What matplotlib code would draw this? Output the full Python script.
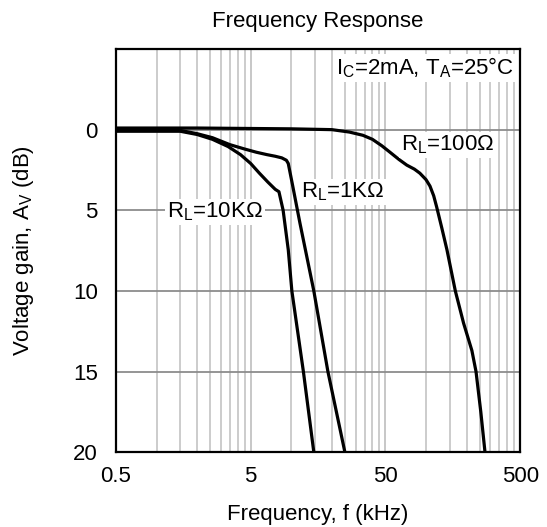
import matplotlib
matplotlib.use('Agg')
from matplotlib import pyplot as plt
import numpy as np

plt.rcParams['font.family'] = ['Liberation Sans', 'DejaVu Sans']
plt.rcParams['mathtext.fontset'] = 'custom'
plt.rcParams['mathtext.rm'] = 'Liberation Sans'
plt.rcParams['font.size'] = 16

# 曲线数据
f_100 = [0.5, 2, 10, 20, 27, 34, 40, 47, 54, 63, 72, 82, 90, 100, 107, 114, 120, 131, 143, 165, 190, 219, 235, 255, 274]
g_100 = [-0.1, -0.1, -0.05, 0.0, 0.15, 0.35, 0.6, 1.0, 1.4, 1.85, 2.2, 2.45, 2.7, 3.1, 3.5, 4.1, 4.8, 6.1, 7.45, 10, 12.0, 13.7, 15, 17.5, 20]

f_1k = [0.5, 1.5, 2.0, 2.6, 3.5, 4.5, 5.5, 6.6, 7.6, 8.5, 9.2, 9.5, 10.2, 11.6, 14.7, 18.7, 25]
g_1k = [0.0, 0.05, 0.25, 0.5, 0.93, 1.2, 1.4, 1.55, 1.65, 1.75, 1.9, 2.1, 3.4, 5.8, 10, 15, 20]

f_10k = [0.5, 1.5, 2.0, 2.6, 3.4, 4.2, 5.0, 5.8, 6.7, 7.6, 8.1, 8.7, 9.5, 10.1, 12.3, 14.7]
g_10k = [0.1, 0.1, 0.3, 0.6, 1.05, 1.55, 2.1, 2.7, 3.25, 3.7, 3.85, 5.0, 7.45, 10, 15, 20]

xticks = [0.5, 5, 50, 500]
xticklabels = ['0.5', '5', '50', '500']
yticks = [0, 5, 10, 15, 20]

fig = plt.figure(figsize=(5.47, 5.27), dpi=100)
ax = fig.add_axes([0.212, 0.142, 0.739, 0.765])

# 网格线
minor = [m * 10.0 ** e for e in (-1, 0, 1, 2) for m in np.arange(5, 50, 5)]
minor = [v for v in minor if 0.5 < v < 500]
for v in minor:
    ax.axvline(v, color='#c8c8c8', lw=1.3, zorder=1)
for v in [5, 50]:
    ax.axvline(v, color='#c8c8c8', lw=1.3, zorder=1)
for v in [0, 5, 10, 15]:
    ax.axhline(v, color='#8c8c8c', lw=1.3, zorder=1)

for f, g in [(f_100, g_100), (f_1k, g_1k), (f_10k, g_10k)]:
    ax.plot(f, g, color='black', lw=2.3, zorder=3, solid_joinstyle='round')

ax.set_xscale('log')
ax.set_xlim(0.5, 500)
ax.set_ylim(20, -5)
ax.set_xticks(xticks)
ax.set_xticklabels(xticklabels)
ax.xaxis.set_minor_locator(matplotlib.ticker.NullLocator())
ax.set_yticks(yticks)
ax.tick_params(axis='y', length=0, pad=13, labelsize=16)
ax.tick_params(axis='x', length=0, pad=10, labelsize=16)
for s in ax.spines.values():
    s.set_linewidth(1.6)

ax.set_title('Frequency Response', fontsize=16, pad=16)
ax.set_xlabel('Frequency, f (kHz)', fontsize=16, labelpad=12)
ax.set_ylabel('Voltage gain, A$_\\mathregular{V}$ (dB)', fontsize=16, labelpad=27)

box = dict(facecolor='white', edgecolor='none', pad=1.5)
ax.text(0.985, 0.953, 'I$_\\mathregular{C}$=2mA, T$_\\mathregular{A}$=25°C', transform=ax.transAxes,
        ha='right', va='center', bbox=box, zorder=4)
ax.text(0.82, 0.762, 'R$_\\mathregular{L}$=100Ω', transform=ax.transAxes,
        ha='center', va='center', bbox=box, zorder=4)
ax.text(0.562, 0.645, 'R$_\\mathregular{L}$=1KΩ', transform=ax.transAxes,
        ha='center', va='center', bbox=box, zorder=4)
ax.text(0.245, 0.596, 'R$_\\mathregular{L}$=10KΩ', transform=ax.transAxes,
        ha='center', va='center', bbox=box, zorder=4)

fig.savefig('out.png', dpi=100, facecolor='white')
